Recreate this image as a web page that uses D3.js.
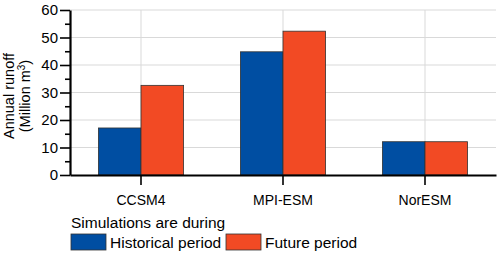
<!DOCTYPE html>
<html>
<head>
<meta charset="utf-8">
<script src="https://cdn.jsdelivr.net/npm/d3@7"></script>
<style>
  body { margin: 0; background: #fff; }
  text { font-family: "Liberation Sans", Arial, sans-serif; fill: #000; }
  .grid line { stroke: #d9d9d9; stroke-width: 1; }
  .axis path, .axis line { stroke: #000; }
</style>
</head>
<body>
<div id="chart"></div>
<script>
  // data
  var models = ["CCSM4", "MPI-ESM", "NorESM"];
  var historical = [17.1, 44.8, 12.1];
  var future = [32.6, 52.3, 12.1];
  var yTicks = [0, 10, 20, 30, 40, 50, 60];
  var yMinorTicks = [5, 15, 25, 35, 45, 55];
  var seriesNames = ["Historical period", "Future period"];
  var colors = ["#004ea2", "#f24a24"];

  var width = 500, height = 255;
  var margin = {top: 10, right: 4, bottom: 80, left: 70};

  var svg = d3.select("#chart").append("svg")
      .attr("width", width)
      .attr("height", height);

  //Scales
  var x0 = d3.scaleBand()
      .domain(models)
      .range([margin.left, width - margin.right])
      .paddingInner(0.4)
      .paddingOuter(0.2);

  var x1 = d3.scaleBand()
      .domain([0, 1])
      .range([0, x0.bandwidth()]);

  var y = d3.scaleLinear()
      .domain([0, 60])
      .range([height - margin.bottom, margin.top]);

  //Gridlines
  var grid = svg.append("g").attr("class", "grid");
  grid.selectAll(".hgrid")
    .data(yTicks.slice(1))
    .enter().append("line")
      .attr("x1", margin.left)
      .attr("x2", width - margin.right)
      .attr("y1", function(d) { return y(d); })
      .attr("y2", function(d) { return y(d); });
  grid.selectAll(".vgrid")
    .data(models)
    .enter().append("line")
      .attr("x1", function(d) { return x0(d) + x0.bandwidth() / 2; })
      .attr("x2", function(d) { return x0(d) + x0.bandwidth() / 2; })
      .attr("y1", y(60))
      .attr("y2", y(0));

  //Bars
  var rows = models.map(function(m, i) { return [historical[i], future[i]]; });

  var groups = svg.selectAll(".model")
    .data(rows)
    .enter().append("g")
      .attr("class", "model")
      .attr("transform", function(d, i) { return "translate(" + x0(models[i]) + ",0)"; });

  groups.selectAll("rect")
    .data(function(d) { return d; })
    .enter().append("rect")
      .attr("x", function(d, j) { return x1(j); })
      .attr("width", x1.bandwidth())
      .attr("y", function(d) { return y(d); })
      .attr("height", function(d) { return y(0) - y(d); })
      .attr("fill", function(d, j) { return colors[j]; })
      .attr("stroke", "#333")
      .attr("stroke-width", 0.8);

  //Axes
  var yAxis = svg.append("g")
      .attr("class", "axis")
      .attr("transform", "translate(" + margin.left + ",0)")
      .call(d3.axisLeft(y).tickValues(yTicks).tickSize(10).tickPadding(2).tickSizeOuter(0));
  yAxis.selectAll("text").style("font-size", "15px");
  yAxis.selectAll("line").attr("stroke-width", 1.6);

  svg.append("g")
      .attr("class", "axis")
      .attr("transform", "translate(" + margin.left + ",0)")
      .call(d3.axisLeft(y).tickValues(yMinorTicks).tickSize(5).tickFormat("").tickSizeOuter(0))
      .call(function(g) { g.select(".domain").remove(); })
      .selectAll("line").attr("stroke-width", 1.6);

  yAxis.select(".domain").attr("stroke-width", 2.2);

  var xAxis = svg.append("g")
      .attr("class", "axis")
      .attr("transform", "translate(0," + y(0) + ")")
      .call(d3.axisBottom(x0).tickSize(10).tickPadding(10).tickSizeOuter(0));
  xAxis.select(".domain").attr("stroke-width", 2.2);
  xAxis.selectAll("line").attr("stroke-width", 1.6);
  xAxis.selectAll("text").style("font-size", "14px");

  //Y axis title
  var ytitle = svg.append("text")
      .attr("transform", "rotate(-90)")
      .attr("text-anchor", "middle")
      .style("font-size", "14.5px");
  ytitle.append("tspan")
      .attr("x", -96)
      .attr("y", 14)
      .text("Annual runoff");
  var line2 = ytitle.append("tspan")
      .attr("x", -96)
      .attr("y", 30)
      .text("(Million m");
  line2.append("tspan")
      .attr("dy", -5)
      .style("font-size", "10px")
      .text("3");
  line2.append("tspan")
      .attr("dy", 5)
      .text(")");

  //Legend
  var legend = svg.append("g").attr("class", "legend");
  legend.append("text")
      .attr("x", 71)
      .attr("y", 228)
      .style("font-size", "15.5px")
      .text("Simulations are during");

  var legendX = [71, 226];
  var items = legend.selectAll(".item")
    .data(seriesNames)
    .enter().append("g")
      .attr("class", "item")
      .attr("transform", function(d, i) { return "translate(" + legendX[i] + ",234)"; });
  items.append("rect")
      .attr("width", 35)
      .attr("height", 16)
      .attr("fill", function(d, i) { return colors[i]; })
      .attr("stroke", "#333")
      .attr("stroke-width", 0.8);
  items.append("text")
      .attr("x", 39)
      .attr("y", 13.5)
      .style("font-size", "15.5px")
      .text(function(d) { return d; });
</script>
</body>
</html>
